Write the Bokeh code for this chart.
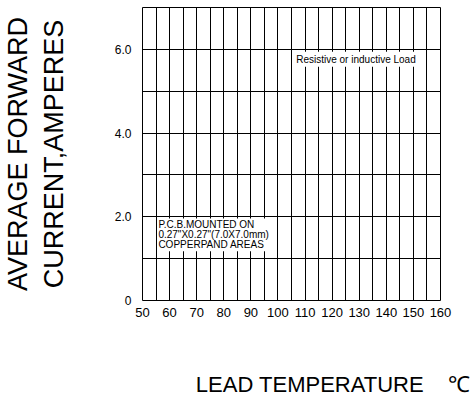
from bokeh.plotting import figure
from bokeh.models import FixedTicker, Label, Title
from bokeh.embed import file_html
from bokeh.resources import INLINE

# data / ticks
x_ticks = [50, 60, 70, 80, 90, 100, 110, 120, 130, 140, 150, 160]
x_grid = list(range(50, 161, 5))
y_ticks = [0, 2, 4, 6]
y_tick_labels = {0: "0", 2: "2.0", 4: "4.0", 6: "6.0"}
y_grid = [0, 1, 2, 3, 4, 5, 6, 7]
x_range = (50, 160)
y_range = (0, 7)
note_load = "Resistive or inductive Load"
note_pcb = 'P.C.B.MOUNTED ON\n0.27"X0.27"(7.0X7.0mm)\nCOPPERPAND AREAS'
y_title_1 = "AVERAGE FORWARD"
y_title_2 = "CURRENT,AMPERES"
x_title = "LEAD TEMPERATURE" + "\u00a0" * 4 + "\u2103"

W, H = 472, 400
p = figure(width=W, height=H, x_range=x_range, y_range=y_range,
           output_backend="svg", toolbar_location=None,
           min_border_left=141, min_border_right=W - 440,
           min_border_top=7, min_border_bottom=H - 300)
p.outline_line_color = "black"
p.outline_line_width = 1
p.background_fill_color = "white"
p.border_fill_color = "white"

FONT = "Liberation Sans"

for ax in (p.xaxis[0], p.yaxis[0]):
    ax.axis_line_color = None
    ax.major_tick_line_color = None
    ax.minor_tick_line_color = None
    ax.major_label_text_font = FONT
    ax.major_label_text_color = "black"

p.xaxis.ticker = FixedTicker(ticks=x_ticks)
p.xaxis.major_label_text_font_size = "13px"
p.xaxis.major_label_standoff = 1
p.yaxis.ticker = FixedTicker(ticks=y_ticks)
p.yaxis.major_label_overrides = y_tick_labels
p.yaxis.major_label_text_font_size = "12px"
p.yaxis.major_label_standoff = 5

p.xgrid.ticker = FixedTicker(ticks=x_grid)
p.ygrid.ticker = FixedTicker(ticks=y_grid)
for g in (p.xgrid[0], p.ygrid[0]):
    g.grid_line_color = "black"
    g.grid_line_alpha = 1.0
    g.grid_line_width = 1

p.scatter(x=[x_range[0]], y=[y_range[0]], size=0, alpha=0)

p.add_layout(Label(x=106, y=5.94, text=note_load, text_font=FONT,
                   text_font_size="10px", text_align="left", text_baseline="top",
                   text_color="black",
                   background_fill_color="white", padding=2))
p.add_layout(Label(x=55.5, y=1.96, text=note_pcb, text_font=FONT,
                   text_font_size="10px", text_align="left", text_baseline="top",
                   text_line_height=0.9, text_color="black",
                   background_fill_color="white", padding=1))

# left titles (spacer first, nearest the frame)
p.add_layout(Title(text="\u00a0", text_font_size="2px", standoff=35), "left")
t_y2 = Title(text=y_title_2, align="center", text_font=FONT,
             text_font_size="27px", text_font_style="normal",
             text_color="black", offset=2, standoff=8)
t_y1 = Title(text=y_title_1, align="center", text_font=FONT,
             text_font_size="27px", text_font_style="normal",
             text_color="black", offset=2, standoff=0)
p.add_layout(t_y2, "left")
p.add_layout(t_y1, "left")

# below: spacer then title
p.add_layout(Title(text="\u00a0", text_font_size="2px", standoff=46), "below")
t_x = Title(text=x_title, align="right", text_font=FONT,
            text_font_size="22px", text_font_style="normal",
            text_color="black", offset=-30, standoff=0)
p.add_layout(t_x, "below")

open("out.html", "w").write(file_html(p, INLINE))
